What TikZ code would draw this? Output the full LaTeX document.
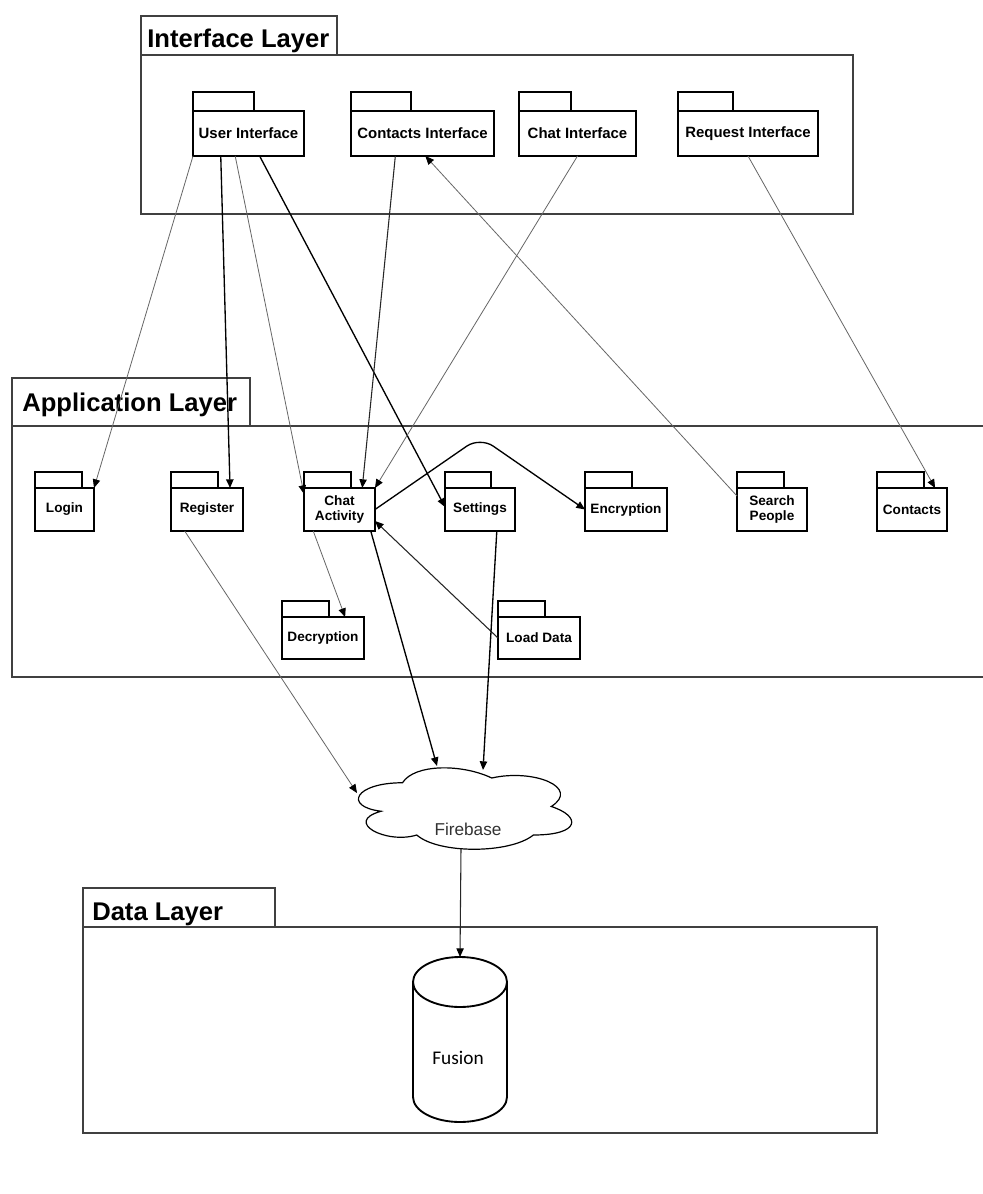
\documentclass[tikz,border=0pt]{standalone}
\usepackage{fontspec}
\setmainfont{Liberation Sans}
\newfontfamily\dbfont{Carlito}
\usetikzlibrary{calc,arrows.meta}

% package symbol: body node plus a small tab on its upper left
% #1 extra options, #2 name, #3/#4 centre, #5/#6 body size, #7/#8 tab size, #9 label
\newcommand\pkgbox[9][]{%
  \node[pkg,#1,minimum width={#5*0.75pt},minimum height={#6*0.75pt}] (#2) at (#3,#4) {#9};
  \draw[pkgedge] (#2.north west) rectangle ++(#7,-#8);
}

\begin{document}
\begin{tikzpicture}[x=0.75pt,y=-0.75pt,
  layer/.style={draw=black!75,line width=1.1pt},
  layertitle/.style={font=\fontsize{19.2}{23}\selectfont\bfseries,anchor=base west,inner sep=0pt},
  pkgedge/.style={draw=black,line width=1pt},
  pkg/.style={pkgedge,fill=white,inner sep=0pt,outer sep=0pt,align=center,
    font=\fontsize{10.2}{11.5}\selectfont\bfseries},
  ifpkg/.style={font=\fontsize{11.2}{13}\selectfont\bfseries},
  tip/.style={-{Triangle[length=6.5pt,width=5.5pt,color=black]}},
  thinlink/.style={tip,draw=black!60,line width=0.6pt},
  midlink/.style={tip,draw=black!85,line width=0.8pt},
  thicklink/.style={tip,draw=black,line width=1pt},
  cloudedge/.style={draw=black,line width=0.9pt,fill=white},
  cyl/.style={draw=black,line width=1.4pt}]

\useasboundingbox (0,0) rectangle (982,1194);
\fill[white] (0,0) rectangle (982,1194);

% ---------------- layers ----------------
\draw[layer] (141,16) rectangle (337,55);
\draw[layer] (141,55) rectangle (853,214);
\node[layertitle] (iltitle) at (147,47.7) {Interface Layer};

\draw[layer] (12,378) rectangle (250,426);
\draw[layer] (992,426) -- (12,426) -- (12,677) -- (992,677);
\node[layertitle] (altitle) at (22,411.7) {Application Layer};

\draw[layer] (83,888) rectangle (275,927);
\draw[layer] (83,927) rectangle (877,1133);
\node[layertitle] (dltitle) at (92,920) {Data Layer};

% ---------------- interface packages ----------------
\pkgbox[ifpkg]{ui}{248.5}{133.5}{111}{45}{61}{19}{User Interface}
\pkgbox[ifpkg]{ci}{422.5}{133.5}{143}{45}{60}{19}{Contacts Interface}
\pkgbox[ifpkg]{chi}{577.5}{133.5}{117}{45}{52}{19}{Chat Interface}
\pkgbox[ifpkg]{req}{748}{133.5}{140}{45}{55}{19}{Request Interface}

% ---------------- application packages ----------------
\pkgbox{login}{64.5}{509.5}{59}{43}{47}{16}{Login}
\pkgbox{register}{207}{509.5}{72}{43}{47}{16}{Register}
\pkgbox{chat}{339.5}{509.5}{71}{43}{47}{16}{Chat\\Activity}
\pkgbox{settings}{480}{509.5}{70}{43}{46}{16}{Settings}
\pkgbox{enc}{626}{509.5}{82}{43}{47}{16}{Encryption}
\pkgbox{search}{772}{509.5}{70}{43}{47}{16}{Search\\People}
\pkgbox{contacts}{912}{509.5}{70}{43}{47}{16}{Contacts}
\pkgbox{dec}{323}{638}{82}{42}{47}{16}{Decryption}
\pkgbox{load}{539}{638}{82}{42}{47}{16}{Load Data}

% ---------------- firebase cloud ----------------
\node[inner sep=0pt,outer sep=0pt,minimum width={238*0.75pt},minimum height={95*0.75pt}] (fb) at (462,806.5) {};
\begin{scope}[shift={(fb.north west)},x=178.5pt,y=-71.25pt]
  \draw[cloudedge] (0.25,0.25)
    .. controls (0.05,0.25) and (0,0.5) .. (0.16,0.55)
    .. controls (0,0.66) and (0.18,0.9) .. (0.31,0.8)
    .. controls (0.4,1) and (0.7,1) .. (0.8,0.8)
    .. controls (1,0.8) and (1,0.6) .. (0.875,0.5)
    .. controls (1,0.3) and (0.8,0.1) .. (0.625,0.2)
    .. controls (0.5,0.05) and (0.3,0.05) .. (0.25,0.25) -- cycle;
\end{scope}
\node[font=\fontsize{12.9}{15}\selectfont,text=black!80] (fblabel) at (468,829) {Firebase};

% ---------------- fusion database ----------------
\node[inner sep=0pt,outer sep=0pt,minimum width={94*0.75pt},minimum height={165*0.75pt}] (fusion) at (460,1039.5) {};
\draw[cyl] (413,982) arc[start angle=180,end angle=540,x radius=35.25pt,y radius=18.75pt];
\draw[cyl] (413,982) -- (413,1097) arc[start angle=180,end angle=360,x radius=35.25pt,y radius=18.75pt] -- (507,982);
\node[font=\dbfont\fontsize{14.5}{17}\selectfont] (fusionlabel) at (458,1058) {Fusion};

% ---------------- connectors ----------------
\draw[thinlink] (ui.south west) -- (login.north east);
\draw[thicklink] ($(ui.south west)!0.25!(ui.south east)$) -- ($(register.north west)!0.82!(register.north east)$);
\draw[thinlink] ($(ui.south west)!0.38!(ui.south east)$) -- ($(chat.north west)+(0,6)$);
\draw[thicklink] ($(ui.south west)!0.60!(ui.south east)$) -- ($(settings.north west)+(0,19)$);

\draw[midlink] ($(ci.south west)!0.31!(ci.south east)$) -- ($(chat.north west)!0.82!(chat.north east)$);
\draw[thinlink] (chi.south) -- (chat.north east);
\draw[thinlink] (req.south) -- ($(contacts.north west)!0.83!(contacts.north east)$);
\draw[thinlink] ($(search.north west)+(0,8)$) -- ($(ci.south west)!0.52!(ci.south east)$);

\coordinate (encbend) at (480,437);
\draw[thicklink,rounded corners=12pt] (chat.east) -- (encbend) -- (enc.west);
\draw[midlink] (load.west) -- ($(chat.south east)+(0,-10)$);
\draw[thinlink] ($(chat.south west)!0.13!(chat.south east)$) -- ($(dec.north west)!0.77!(dec.north east)$);

\draw[thicklink] ($(chat.south west)!0.94!(chat.south east)$) -- ($(fb.center)+(-25,-40.5)$);
\draw[thicklink] ($(settings.south west)!0.74!(settings.south east)$) -- ($(fb.center)+(21,-36.5)$);
\draw[thinlink] ($(register.south west)!0.19!(register.south east)$) -- ($(fb.center)+(-105,-13.5)$);

\draw[midlink] ($(fb.center)+(-1,42)$) -- (fusion.north);
\end{tikzpicture}
\end{document}
